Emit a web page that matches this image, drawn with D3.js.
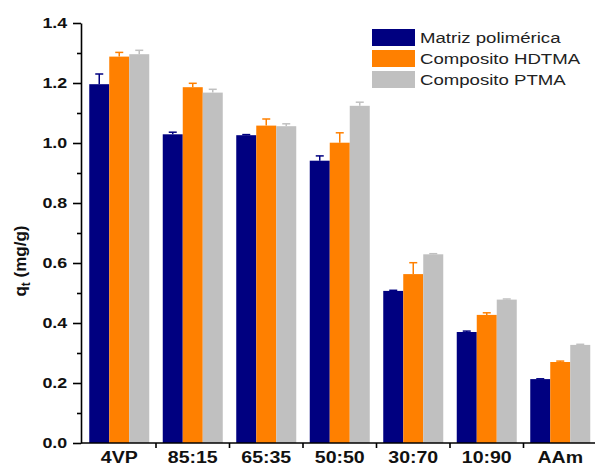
<!DOCTYPE html>
<html>
<head>
<meta charset="utf-8">
<script src="https://cdn.jsdelivr.net/npm/d3@7"></script>
<style>
  html, body { margin: 0; padding: 0; background: #fff; }
  svg { display: block; font-family: "Liberation Sans", Arial, sans-serif; }
</style>
</head>
<body>
<svg id="chart" width="595" height="468"></svg>
<script>
// Sample compositions along the x axis
const categories = ["4VP", "85:15", "65:35", "50:50", "30:70", "10:90", "AAm"];

// Series names (legend order)
const seriesNames = ["Matriz polimérica", "Composito HDTMA", "Composito PTMA"];

// Mean q_t (mg/g) per series
const matrizValues = [1.196, 1.029, 1.026, 0.941, 0.507, 0.370, 0.213];
const hdtmaValues  = [1.288, 1.186, 1.058, 1.001, 0.563, 0.427, 0.270];
const ptmaValues   = [1.296, 1.168, 1.056, 1.124, 0.629, 0.478, 0.327];

// Standard deviations (upper error bars)
const matrizErrors = [0.034, 0.007, 0.002, 0.016, 0.002, 0.003, 0.001];
const hdtmaErrors  = [0.014, 0.013, 0.022, 0.033, 0.038, 0.007, 0.003];
const ptmaErrors   = [0.013, 0.011, 0.008, 0.012, 0.002, 0.002, 0.002];

// Y axis ticks
const yMajorTicks = [0.0, 0.2, 0.4, 0.6, 0.8, 1.0, 1.2, 1.4];
const yMinorTicks = [0.1, 0.3, 0.5, 0.7, 0.9, 1.1, 1.3];

const colors = ["#000080", "#ff8000", "#c0c0c0"];

const series = [
  { name: seriesNames[0], values: matrizValues, errors: matrizErrors },
  { name: seriesNames[1], values: hdtmaValues,  errors: hdtmaErrors },
  { name: seriesNames[2], values: ptmaValues,   errors: ptmaErrors }
];

const svg = d3.select("#chart");
const axisX = 81, baseY = 443, topY = 23;

const y = d3.scaleLinear().domain([0, 1.4]).range([baseY, topY]);
const x0 = d3.scaleBand().domain(categories).range([82.5, 597]).padding(0);
const x1 = d3.scaleBand().domain(seriesNames)
  .range([6.75, x0.bandwidth() - 6.75]).padding(0);
const color = d3.scaleOrdinal().domain(seriesNames).range(colors);

// Bars
const groups = svg.append("g")
  .selectAll("g")
  .data(categories)
  .join("g")
  .attr("transform", c => `translate(${x0(c)},0)`);

groups.each(function(c, i) {
  const g = d3.select(this);
  const rows = series.map(s => ({ name: s.name, v: s.values[i], e: s.errors[i] }));
  // error bars (drawn under bar so only upper half shows)
  const eb = g.selectAll("g.err").data(rows).join("g").attr("class", "err");
  eb.append("line")
    .attr("x1", d => x1(d.name) + x1.bandwidth() / 2)
    .attr("x2", d => x1(d.name) + x1.bandwidth() / 2)
    .attr("y1", d => y(d.v))
    .attr("y2", d => y(d.v + d.e))
    .attr("stroke", d => color(d.name)).attr("stroke-width", 1.5);
  eb.append("line")
    .attr("x1", d => x1(d.name) + x1.bandwidth() / 2 - 4)
    .attr("x2", d => x1(d.name) + x1.bandwidth() / 2 + 4)
    .attr("y1", d => y(d.v + d.e))
    .attr("y2", d => y(d.v + d.e))
    .attr("stroke", d => color(d.name)).attr("stroke-width", 1.5);
  g.selectAll("rect").data(rows).join("rect")
    .attr("x", d => x1(d.name))
    .attr("width", x1.bandwidth())
    .attr("y", d => y(d.v))
    .attr("height", d => y(0) - y(d.v))
    .attr("fill", d => color(d.name));
});

// Y axis: major ticks with labels
const yAxis = svg.append("g")
  .attr("transform", `translate(${axisX},0)`)
  .call(d3.axisLeft(y).tickValues(yMajorTicks).tickFormat(d3.format(".1f"))
    .tickSize(8).tickPadding(3).tickSizeOuter(0));
yAxis.select(".domain").attr("stroke", "#000").attr("stroke-width", 1.6);
yAxis.selectAll(".tick line").attr("stroke", "#000").attr("stroke-width", 1.6);
yAxis.selectAll(".tick text")
  .attr("x", -12)
  .attr("font-size", 15.5).attr("font-weight", "bold").attr("fill", "#111")
  .attr("transform", "scale(1.15,1)");

// Y axis: minor ticks
const yMinor = svg.append("g")
  .attr("transform", `translate(${axisX},0)`)
  .call(d3.axisLeft(y).tickValues(yMinorTicks).tickFormat("").tickSize(4).tickSizeOuter(0));
yMinor.select(".domain").remove();
yMinor.selectAll(".tick line").attr("stroke", "#000").attr("stroke-width", 1.6);

// X axis: category labels at band centers
const xAxis = svg.append("g")
  .attr("transform", `translate(0,${baseY})`)
  .call(d3.axisBottom(x0).tickSize(0).tickPadding(8).tickSizeOuter(0));
xAxis.select(".domain").remove();
xAxis.selectAll(".tick text")
  .attr("font-size", 17).attr("font-weight", "bold").attr("fill", "#111")
  .attr("dy", "0.71em")
  .attr("transform", "scale(1.15,1)");

// X axis line and separator ticks between groups
svg.append("line")
  .attr("x1", axisX).attr("x2", 597)
  .attr("y1", baseY).attr("y2", baseY)
  .attr("stroke", "#000").attr("stroke-width", 1.6);
svg.append("g").selectAll("line")
  .data(categories.slice(1))
  .join("line")
  .attr("x1", c => x0(c)).attr("x2", c => x0(c))
  .attr("y1", baseY).attr("y2", baseY + 5)
  .attr("stroke", "#000").attr("stroke-width", 1.6);

// Y axis title
const yTitle = svg.append("text")
  .attr("transform", "translate(25.5,261) rotate(-90)")
  .attr("text-anchor", "middle")
  .attr("font-size", 17).attr("font-weight", "bold").attr("fill", "#111");
yTitle.append("tspan").text("q");
yTitle.append("tspan").attr("font-size", 12).attr("dy", 4).text("t");
yTitle.append("tspan").attr("dy", -4).text(" (mg/g)");

// Legend
const legend = svg.append("g").attr("transform", "translate(372,29)");
const li = legend.selectAll("g").data(seriesNames).join("g")
  .attr("transform", (d, i) => `translate(0,${i * 21})`);
li.append("rect").attr("width", 43).attr("height", 17).attr("fill", d => color(d));
li.append("text")
  .attr("x", 0).attr("y", 9)
  .attr("dy", "0.35em")
  .attr("font-size", 15.5).attr("fill", "#222")
  .attr("transform", "translate(48,0) scale(1.2,1)")
  .text(d => d);
</script>
</body>
</html>
